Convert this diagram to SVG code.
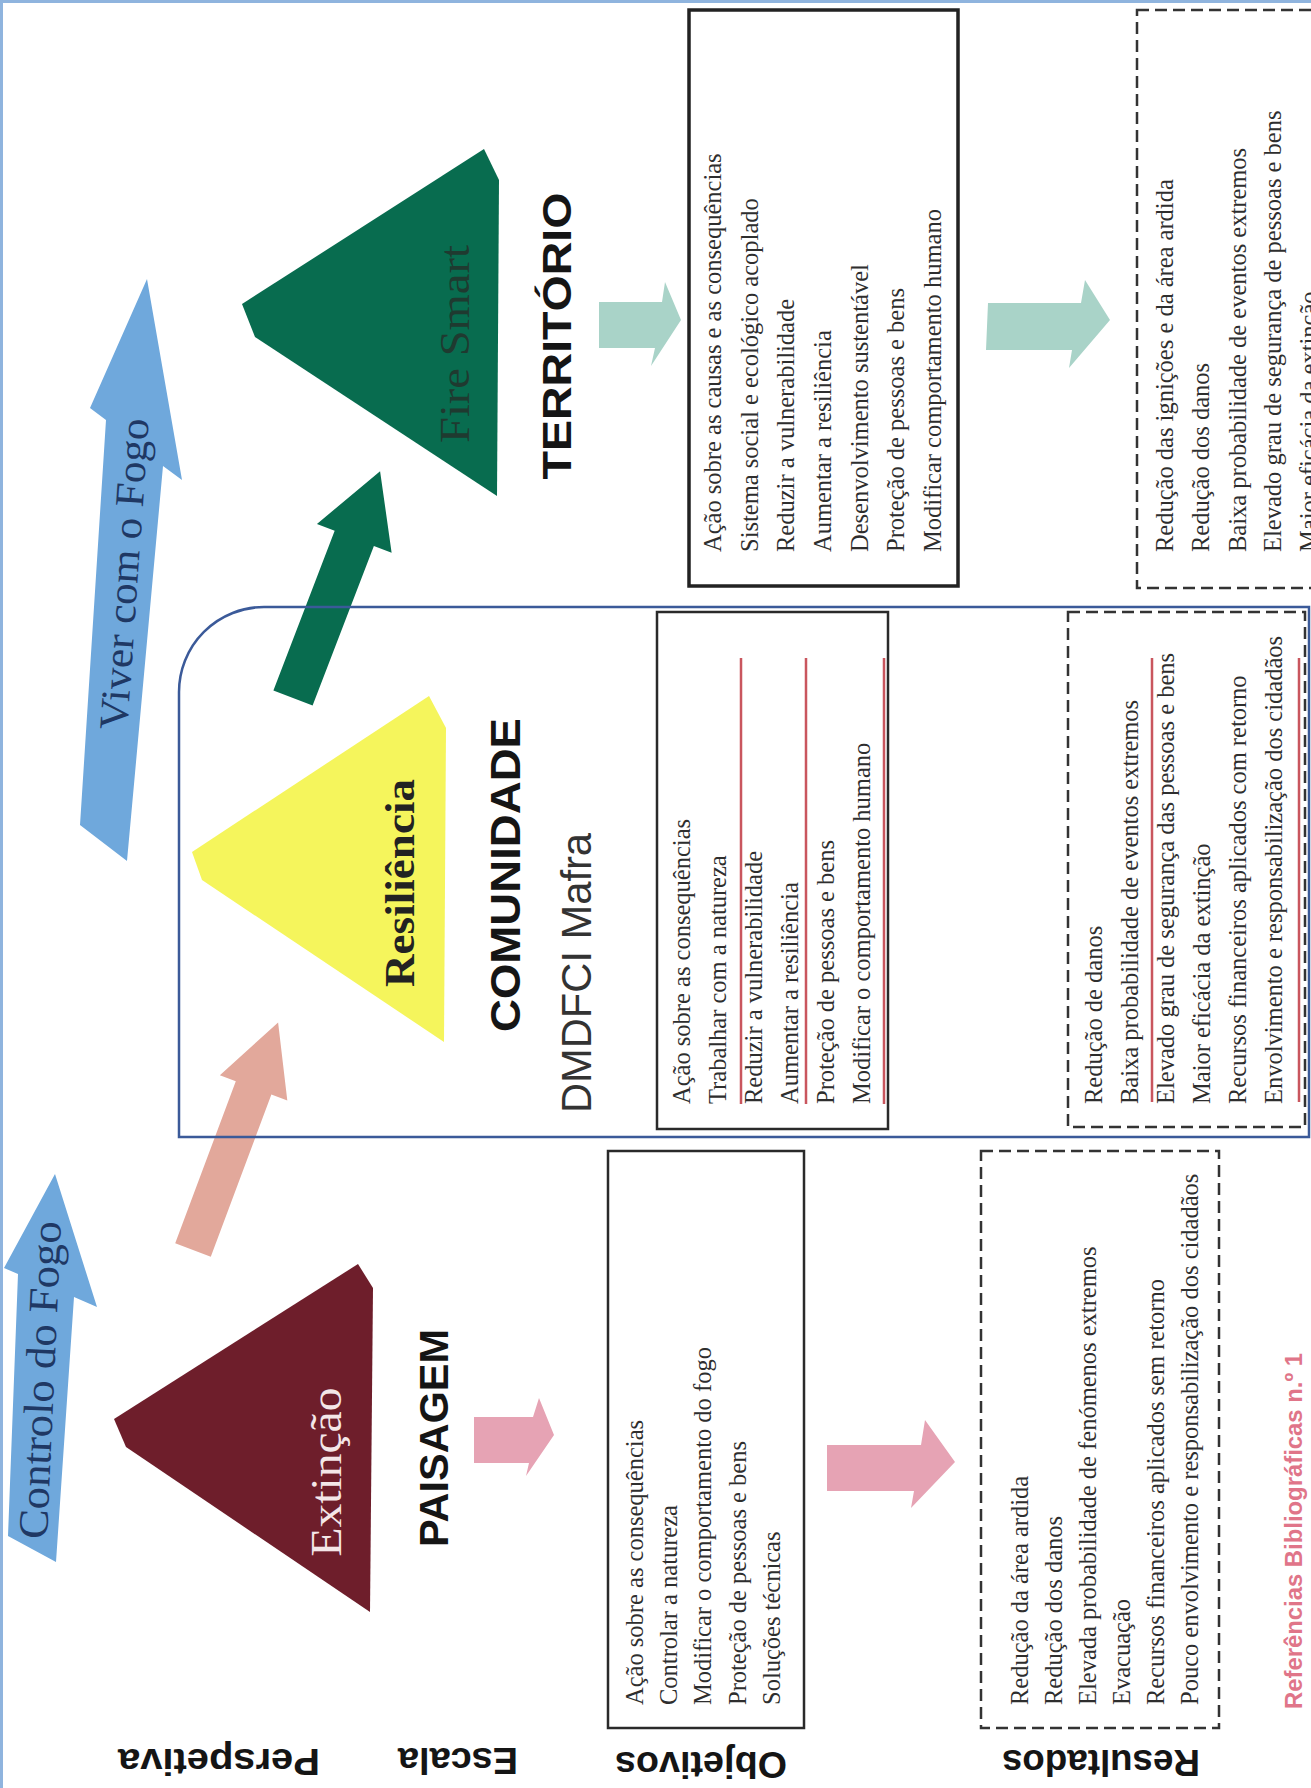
<svg xmlns="http://www.w3.org/2000/svg" width="1311" height="1788" viewBox="0 0 1311 1788">
<style>
.body{font-family:"Liberation Serif",serif;font-size:24.5px;fill:#2e2e2e;dominant-baseline:central}
.hd{font-family:"Liberation Sans",Arial,sans-serif;font-weight:bold;fill:#151515;text-anchor:middle;dominant-baseline:central}
.lbl{font-family:"Liberation Sans",Arial,sans-serif;font-weight:bold;font-size:37px;fill:#151515;text-anchor:middle;dominant-baseline:central}
.ser{font-family:"Liberation Serif",serif;text-anchor:middle;dominant-baseline:central}
.solid{fill:none;stroke:#2a2a2a;stroke-width:2.5}
.dash{fill:none;stroke:#333;stroke-width:2.5;stroke-dasharray:12 6}
.red{stroke:#c9565e;stroke-width:2.5}
.blueArrow{fill:#6fa8dc}
.teal{fill:#a9d3c8}
.pink{fill:#e6a3b4}
</style>
<rect x="0" y="0" width="1311" height="1788" fill="#ffffff"/>
<path d="M1.5,1788 V1.5 H1311" fill="none" stroke="#8fb4de" stroke-width="3"/>

<g id="connectors">
  <polygon class="blueArrow" points="55,1174 97,1307 74,1297 56,1562 8,1536 18,1274 4,1268"/>
  <polygon class="blueArrow" points="147,279 182,480 163,466 127,861 80,825 106,420 90,408"/>
  <polygon fill="#e2a89b" points="0,-19 173,-19 173,-36 243,0 173,36 173,19 0,19" transform="translate(193,1250) rotate(-69.5)"/>
  <polygon fill="#086c4f" points="0,-21 171,-21 171,-40 243,0 171,40 171,21 0,21" transform="translate(293,698) rotate(-69)"/>
  <polygon class="pink" points="474,1417 533,1417 539,1398 554,1435 526,1476 529,1463 474,1463"/>
  <polygon class="pink" points="827,1445 921,1445 925,1420 955,1462 911,1508 914,1491 827,1491"/>
  <polygon class="teal" points="599,302 662,302 665,282 681,320 651,366 655,348 599,348"/>
  <polygon class="teal" points="988,303 1081,303 1085,280 1110,320 1069,368 1072,350 986,350"/>
</g>

<g id="frame-comunidade">
  <path d="M179,1137 V692 A85,85 0 0 1 264,607 H1309 V1137 Z" fill="none" stroke="#3b5a99" stroke-width="2.5"/>
</g>

<g id="arrow-labels">
  <text class="ser" font-size="42" fill="#1f3864" textLength="318" lengthAdjust="spacingAndGlyphs" transform="translate(40,1380) rotate(-87.5)">Controlo do Fogo</text>
  <text class="ser" font-size="41" fill="#1f3864" textLength="312" lengthAdjust="spacingAndGlyphs" transform="translate(124,574) rotate(-86)">Viver com o Fogo</text>
</g>

<g id="node-extincao">
  <polygon fill="#6e1e2b" points="358,1264 373,1288 370,1612 126,1447 114,1419"/>
  <text class="ser" font-size="44" fill="#f4e6e8" textLength="169" lengthAdjust="spacingAndGlyphs" transform="translate(326,1472) rotate(-90)">Extinção</text>
  <text class="hd" font-size="41" textLength="218" lengthAdjust="spacingAndGlyphs" transform="translate(434,1438) rotate(-90)">PAISAGEM</text>
</g>

<g id="node-resiliencia">
  <polygon fill="#f5f55c" points="429,696 446,728 444,1042 202,880 192,852"/>
  <text class="ser" font-size="42" font-weight="bold" fill="#222" textLength="208" lengthAdjust="spacingAndGlyphs" transform="translate(400,883) rotate(-90)">Resiliência</text>
  <text class="hd" font-size="42" textLength="314" lengthAdjust="spacingAndGlyphs" transform="translate(505,875) rotate(-90)">COMUNIDADE</text>
  <text font-family="Liberation Sans,Arial,sans-serif" font-size="42" fill="#333" text-anchor="middle" dominant-baseline="central" textLength="280" lengthAdjust="spacingAndGlyphs" transform="translate(576,973) rotate(-90)">DMDFCI Mafra</text>
</g>

<g id="node-firesmart">
  <polygon fill="#086c4f" points="484,149 499,180 497,496 255,337 242,304"/>
  <text class="ser" font-size="42" fill="#1f3a30" textLength="198" lengthAdjust="spacingAndGlyphs" transform="translate(455,344) rotate(-90)">Fire Smart</text>
  <text class="hd" font-size="40" textLength="287" lengthAdjust="spacingAndGlyphs" transform="translate(557,336) rotate(-90)">TERRITÓRIO</text>
</g>

<g id="obj-paisagem">
  <rect class="solid" x="608" y="1151" width="196" height="577"/>
  <text class="body" transform="translate(634,1705) rotate(-90)">Ação sobre as consequências</text>
  <text class="body" transform="translate(668,1705) rotate(-90)">Controlar a natureza</text>
  <text class="body" transform="translate(702,1705) rotate(-90)">Modificar o comportamento do fogo</text>
  <text class="body" transform="translate(737,1705) rotate(-90)">Proteção de pessoas e bens</text>
  <text class="body" transform="translate(771,1705) rotate(-90)">Soluções técnicas</text>
</g>

<g id="res-paisagem">
  <rect class="dash" x="981" y="1151" width="238" height="577"/>
  <text class="body" transform="translate(1019,1705) rotate(-90)">Redução da área ardida</text>
  <text class="body" transform="translate(1053,1705) rotate(-90)">Redução dos danos</text>
  <text class="body" transform="translate(1087,1705) rotate(-90)">Elevada probabilidade de fenómenos extremos</text>
  <text class="body" transform="translate(1121,1705) rotate(-90)">Evacuação</text>
  <text class="body" transform="translate(1155,1705) rotate(-90)">Recursos financeiros aplicados sem retorno</text>
  <text class="body" transform="translate(1189,1705) rotate(-90)">Pouco envolvimento e responsabilização dos cidadãos</text>
</g>

<g id="obj-comunidade">
  <rect class="solid" x="657" y="612" width="231" height="517"/>
  <text class="body" transform="translate(681,1104) rotate(-90)">Ação sobre as consequências</text>
  <text class="body" transform="translate(717,1104) rotate(-90)">Trabalhar com a natureza</text>
  <text class="body" transform="translate(753,1104) rotate(-90)">Reduzir a vulnerabilidade</text>
  <text class="body" transform="translate(789,1104) rotate(-90)">Aumentar a resiliência</text>
  <text class="body" transform="translate(825,1104) rotate(-90)">Proteção de pessoas e bens</text>
  <text class="body" transform="translate(861,1104) rotate(-90)">Modificar o comportamento humano</text>
  <line class="red" x1="741" y1="658" x2="741" y2="1104"/>
  <line class="red" x1="806" y1="658" x2="806" y2="1104"/>
  <line class="red" x1="884" y1="658" x2="884" y2="1104"/>
</g>

<g id="res-comunidade">
  <rect class="dash" x="1068" y="612" width="237" height="515"/>
  <text class="body" transform="translate(1093,1104) rotate(-90)">Redução de danos</text>
  <text class="body" transform="translate(1129,1104) rotate(-90)">Baixa probabilidade de eventos extremos</text>
  <text class="body" transform="translate(1165,1104) rotate(-90)">Elevado grau de segurança das pessoas e bens</text>
  <text class="body" transform="translate(1201,1104) rotate(-90)">Maior eficácia da extinção</text>
  <text class="body" transform="translate(1237,1104) rotate(-90)">Recursos financeiros aplicados com retorno</text>
  <text class="body" transform="translate(1273,1104) rotate(-90)">Envolvimento e responsabilização dos cidadãos</text>
  <line class="red" x1="1152" y1="658" x2="1152" y2="1102"/>
  <line class="red" x1="1299" y1="658" x2="1299" y2="1102"/>
</g>

<g id="obj-territorio">
  <rect fill="none" stroke="#222" stroke-width="3.5" x="689" y="10" width="269" height="576"/>
  <text class="body" transform="translate(712,552) rotate(-90)">Ação sobre as causas e as consequências</text>
  <text class="body" transform="translate(749,552) rotate(-90)">Sistema social e ecológico acoplado</text>
  <text class="body" transform="translate(785,552) rotate(-90)">Reduzir a vulnerabilidade</text>
  <text class="body" transform="translate(822,552) rotate(-90)">Aumentar a resiliência</text>
  <text class="body" transform="translate(859,552) rotate(-90)">Desenvolvimento sustentável</text>
  <text class="body" transform="translate(895,552) rotate(-90)">Proteção de pessoas e bens</text>
  <text class="body" transform="translate(932,552) rotate(-90)">Modificar comportamento humano</text>
</g>

<g id="res-territorio">
  <rect class="dash" x="1137" y="10" width="190" height="578"/>
  <text class="body" transform="translate(1164,552) rotate(-90)">Redução das ignições e da área ardida</text>
  <text class="body" transform="translate(1200,552) rotate(-90)">Redução dos danos</text>
  <text class="body" transform="translate(1237,552) rotate(-90)">Baixa probabilidade de eventos extremos</text>
  <text class="body" transform="translate(1272,552) rotate(-90)">Elevado grau de segurança de pessoas e bens</text>
  <text class="body" transform="translate(1308,552) rotate(-90)">Maior eficácia da extinção</text>
</g>

<g id="row-labels">
  <text class="lbl" textLength="202" lengthAdjust="spacingAndGlyphs" transform="translate(219,1761) rotate(180)">Perspetiva</text>
  <text class="lbl" textLength="120" lengthAdjust="spacingAndGlyphs" transform="translate(458,1760) rotate(180)">Escala</text>
  <text class="lbl" textLength="172" lengthAdjust="spacingAndGlyphs" transform="translate(701,1764) rotate(180)">Objetivos</text>
  <text class="lbl" textLength="198" lengthAdjust="spacingAndGlyphs" transform="translate(1101,1762) rotate(180)">Resultados</text>
</g>

<g id="reference">
  <text font-family="Liberation Sans,Arial,sans-serif" font-weight="bold" font-size="24" fill="#e07589" dominant-baseline="central" textLength="356" lengthAdjust="spacingAndGlyphs" transform="translate(1293,1709) rotate(-90)">Referências Bibliográficas n.º 1</text>
</g>
</svg>
